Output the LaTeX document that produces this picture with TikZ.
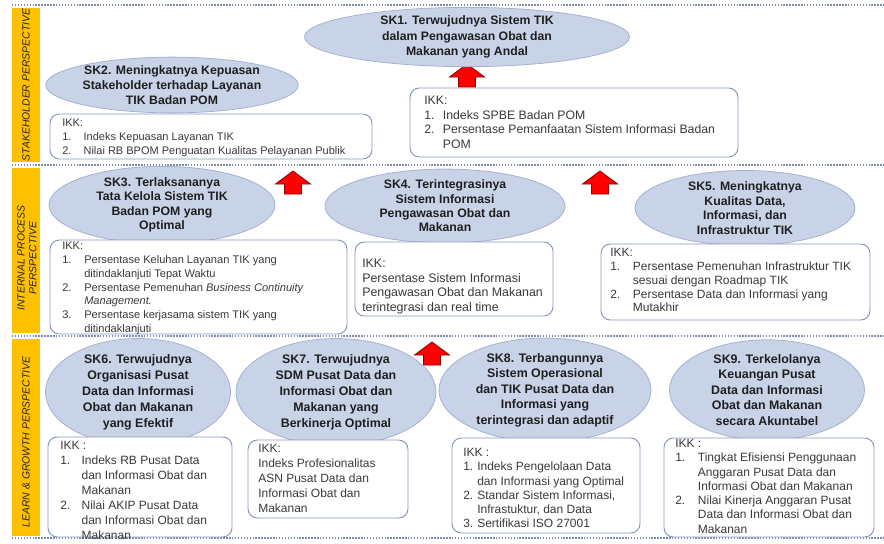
\documentclass[tikz,border=0pt]{standalone}
\usepackage{fontspec}
\setmainfont{Liberation Sans}
\usetikzlibrary{shapes.geometric,fit}
\definecolor{ellfill}{HTML}{C9D3E8}
\definecolor{elldraw}{HTML}{A4B2D0}
\definecolor{boxdraw}{HTML}{8797BA}
\definecolor{dotc}{HTML}{7D8BB0}
\definecolor{barc}{HTML}{FFC000}
\definecolor{txtc}{HTML}{3A3A3A}
\definecolor{arrred}{HTML}{FF0000}
\definecolor{arrdraw}{HTML}{8A0000}
\newcommand\nm[2][16pt]{\makebox[#1][l]{#2}}
\newcommand\ind[1][16pt]{\hspace*{#1}}
\begin{document}
\begin{tikzpicture}[x=0.75pt,y=-0.75pt,
  goal/.style={ellipse, draw=elldraw, fill=ellfill, line width=0.6pt, inner sep=0pt, align=center,
    text=black!88, font=\fontsize{9.2}{11.4}\selectfont\bfseries},
  esize/.style 2 args={minimum width={#1*0.75pt}, minimum height={#2*0.75pt}},
  ikkbox/.style={draw=boxdraw, line width=0.7pt, rounded corners=7pt, fill=white, inner sep=0pt},
  ikk/.style={anchor=north west, inner sep=0pt, align=left, text=txtc},
  barlabel/.style={rotate=90, inner sep=0pt, align=center, text=black!85,
    font=\fontsize{7.8}{8.8}\selectfont\itshape},
  sep/.style={draw=dotc, line width=1pt, dash pattern=on 1.1pt off 1.1pt},
  uparrow/.style={fill=arrred, draw=arrdraw, line width=0.6pt, line join=miter}
]
\useasboundingbox (0,0) rectangle (884,543);

% perspective bars
\fill[barc] (12,8) rectangle (40,162);
\fill[barc] (12,168) rectangle (40,333);
\fill[barc] (12,339) rectangle (40,536);
\node[barlabel] (l1) at (26,85) {STAKEHOLDER PERSPECTIVE};
\node[barlabel] (l2) at (27,258) {INTERNAL PROCESS\\PERSPECTIVE};
\node[barlabel] (l3) at (26,442) {LEARN \& GROWTH PERSPECTIVE};

% dotted separators
\foreach \yy in {5,165,336,538} \draw[sep] (12,\yy) -- (884,\yy);

% red block arrows
\foreach \cx/\ty in {467/64, 293/171, 600/171, 432/342}
  \draw[uparrow] (\cx,\ty) -- (\cx+17.5,\ty+13) -- (\cx+8.5,\ty+13) -- (\cx+8.5,\ty+23)
     -- (\cx-8.5,\ty+23) -- (\cx-8.5,\ty+13) -- (\cx-17.5,\ty+13) -- cycle;

% ---------- Stakeholder perspective ----------
\node[goal, esize={325}{50}] (sk1) at (467,37)
  {SK1. Terwujudnya Sistem TIK\\dalam Pengawasan Obat dan\\Makanan yang Andal};
\node[goal, esize={240}{55}] (sk2) at (172,85)
  {SK2. Meningkatnya Kepuasan\\Stakeholder terhadap Layanan\\TIK Badan POM};

\node[ikkbox, fit={(50,114) (372,159)}] (b2) {};
\node[ikk, font=\fontsize{8.25}{10.5}\selectfont] (t2) at (62,119)
  {IKK:\\\nm{1.}Indeks Kepuasan Layanan TIK\\\nm{2.}Nilai RB BPOM Penguatan Kualitas Pelayanan Publik};

\node[ikkbox, fit={(410,88) (738,157)}] (b1) {};
\node[ikk, font=\fontsize{9.2}{10.9}\selectfont] (t1) at (424,96)
  {IKK:\\\nm[14pt]{1.}Indeks SPBE Badan POM\\\nm[14pt]{2.}Persentase Pemanfaatan Sistem Informasi Badan\\\ind[14pt]POM};

% ---------- Internal process perspective ----------
\node[goal, esize={226}{60}, font=\fontsize{9.2}{10.8}\selectfont\bfseries] (sk3) at (162,205)
  {SK3. Terlaksananya\\Tata Kelola Sistem TIK\\Badan POM yang\\Optimal};
\node[goal, esize={240}{60}, font=\fontsize{9.2}{10.8}\selectfont\bfseries] (sk4) at (445,206)
  {SK4. Terintegrasinya\\Sistem Informasi\\Pengawasan Obat dan\\Makanan};
\node[goal, esize={220}{66}, font=\fontsize{9.2}{11}\selectfont\bfseries] (sk5) at (745,208)
  {SK5. Meningkatnya\\Kualitas Data,\\Informasi, dan\\Infrastruktur TIK};

\node[ikkbox, fit={(50,240) (347,334)}] (b3) {};
\node[ikk, font=\fontsize{8.3}{10.3}\selectfont] (t3) at (62,242)
  {IKK:\\\nm[16.5pt]{1.}Persentase Keluhan Layanan TIK yang\\\ind[16.5pt]ditindaklanjuti Tepat Waktu\\
   \nm[16.5pt]{2.}Persentase Pemenuhan \textit{Business Continuity}\\\ind[16.5pt]\textit{Management.}\\
   \nm[16.5pt]{3.}Persentase kerjasama sistem TIK yang\\\ind[16.5pt]ditindaklanjuti};

\node[ikkbox, fit={(355,242) (553,316)}] (b4) {};
\node[ikk, font=\fontsize{9.3}{10.8}\selectfont] (t4) at (362,259)
  {IKK:\\Persentase Sistem Informasi\\Pengawasan Obat dan Makanan\\terintegrasi dan real time};

\node[ikkbox, fit={(601,244) (870,320)}] (b5) {};
\node[ikk, font=\fontsize{9}{10.4}\selectfont] (t5) at (610,248)
  {IKK:\\\nm[17pt]{1.}Persentase Pemenuhan Infrastruktur TIK\\\ind[17pt]sesuai dengan Roadmap TIK\\
   \nm[17pt]{2.}Persentase Data dan Informasi yang\\\ind[17pt]Mutakhir};

% ---------- Learn & growth perspective ----------
\node[goal, esize={185}{95}, font=\fontsize{9.3}{12}\selectfont\bfseries] (sk6) at (138,392)
  {SK6. Terwujudnya\\Organisasi Pusat\\Data dan Informasi\\Obat dan Makanan\\yang Efektif};
\node[goal, esize={200}{95}, font=\fontsize{9.3}{12}\selectfont\bfseries] (sk7) at (336,392)
  {SK7. Terwujudnya\\SDM Pusat Data dan\\Informasi Obat dan\\Makanan yang\\Berkinerja Optimal};
\node[goal, esize={212}{92}, font=\fontsize{9.3}{11.6}\selectfont\bfseries] (sk8) at (545,390)
  {SK8. Terbangunnya\\Sistem Operasional\\dan TIK Pusat Data dan\\Informasi yang\\terintegrasi dan adaptif};
\node[goal, esize={195}{92}, font=\fontsize{9.3}{11.6}\selectfont\bfseries] (sk9) at (767,390)
  {SK9. Terkelolanya\\Keuangan Pusat\\Data dan Informasi\\Obat dan Makanan\\secara Akuntabel};

\node[ikkbox, fit={(48,437) (232,537)}] (b6) {};
\node[ikk, font=\fontsize{9}{11.25}\selectfont] (t6) at (60,441)
  {IKK :\\\nm{1.}Indeks RB Pusat Data\\\ind dan Informasi Obat dan\\\ind Makanan\\
   \nm{2.}Nilai AKIP Pusat Data\\\ind dan Informasi Obat dan\\\ind Makanan};

\node[ikkbox, fit={(248,440) (408,518)}] (b7) {};
\node[ikk, font=\fontsize{9}{11.25}\selectfont] (t7) at (258,444)
  {IKK:\\Indeks Profesionalitas\\ASN Pusat Data dan\\Informasi Obat dan\\Makanan};

\node[ikkbox, fit={(452,438) (640,533)}] (b8) {};
\node[ikk, font=\fontsize{9}{10.7}\selectfont] (t8) at (463,448)
  {IKK :\\\nm[10.5pt]{1.}Indeks Pengelolaan Data\\\ind[10.5pt]dan Informasi yang Optimal\\
   \nm[10.5pt]{2.}Standar Sistem Informasi,\\\ind[10.5pt]Infrastuktur, dan Data\\
   \nm[10.5pt]{3.}Sertifikasi ISO 27001};

\node[ikkbox, fit={(664,438) (874,537)}] (b9) {};
\node[ikk, font=\fontsize{9}{10.7}\selectfont] (t9) at (675,439)
  {IKK :\\\nm[17pt]{1.}Tingkat Efisiensi Penggunaan\\\ind[17pt]Anggaran Pusat Data dan\\\ind[17pt]Informasi Obat dan Makanan\\
   \nm[17pt]{2.}Nilai Kinerja Anggaran Pusat\\\ind[17pt]Data dan Informasi Obat dan\\\ind[17pt]Makanan};
\end{tikzpicture}
\end{document}
